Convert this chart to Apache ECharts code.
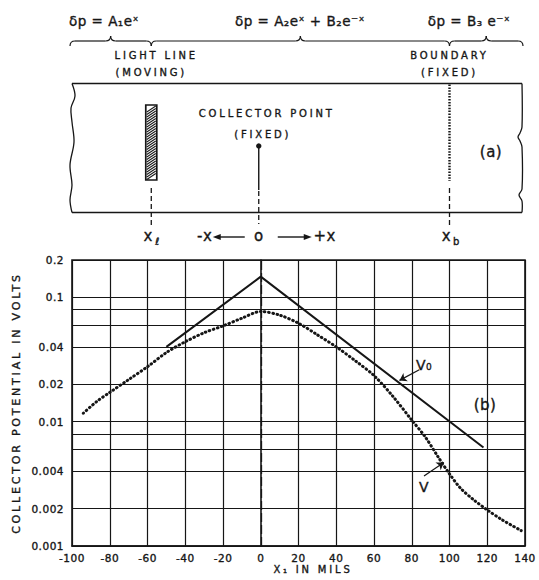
<!DOCTYPE html>
<html>
<head>
<meta charset="utf-8">
<script src="https://cdn.jsdelivr.net/npm/echarts@6/dist/echarts.min.js"></script>
<style>
  html, body { margin: 0; padding: 0; background: #fff; }
  #chart { width: 539px; height: 580px; }
  /* drafting-style lettering: capitals are widely tracked, numerals slightly */
  #chart text[style*="DejaVu Sans"] { letter-spacing: 2.8px; }
  #chart text[style*="Verdana"] { letter-spacing: 0.5px; }
</style>
</head>
<body>
<div id="chart"></div>
<script>
// ---- chart values -------------------------------------------------------
// x positions in mils
const xTickValues = [-100, -80, -60, -40, -20, 0, 20, 40, 60, 80, 100, 120, 140];
// logarithmic grid of the potential axis (volts) and the values that carry labels
const yGridValues = [0.001, 0.002, 0.004, 0.006, 0.008, 0.01, 0.02, 0.04, 0.06, 0.08, 0.1, 0.2];
const yLabelValues = [0.001, 0.002, 0.004, 0.01, 0.02, 0.04, 0.1, 0.2];

// V0 : straight (exponential) potential without the boundary
const v0X = [-50, 0, 118];
const v0Volts = [0.04, 0.147, 0.0062];

// V : measured collector potential
const vX = [-94, -87, -80, -70, -60, -50, -40, -30, -20, -10, 0, 10, 20, 30, 40, 50, 60,
            70, 80, 87, 94, 100, 106, 113, 120, 128, 138];
const vVolts = [0.0117, 0.0145, 0.0172, 0.0218, 0.0277, 0.036, 0.044, 0.052, 0.059, 0.068,
                0.077, 0.072, 0.062, 0.05, 0.04, 0.031, 0.0235, 0.016, 0.0103, 0.0076,
                0.0052, 0.0038, 0.0029, 0.00234, 0.00195, 0.00162, 0.00133];

// positions in the sketch above the plot (mils)
const X_LIGHT = -58;
const X_BOUNDARY = 100;

// ---- styling ------------------------------------------------------------
const INK = '#161616';
const LETTER = 'DejaVu Sans';
const NUMERAL = 'Verdana, DejaVu Sans';
const TEXT_WEIGHT = { textBorderColor: INK, textBorderWidth: 0.35 };

const chart = echarts.init(document.getElementById('chart'), null, { renderer: 'svg' });

const option = {
  animation: false,
  backgroundColor: '#fff',
  grid: {
    left: 72, right: 14, top: 260, bottom: 34,
    show: true, borderColor: INK, borderWidth: 1.6, backgroundColor: 'transparent'
  },
  xAxis: {
    type: 'value', min: -100, max: 140, interval: 20,
    name: 'X\u2081 IN MILS', nameLocation: 'middle', nameGap: 10,
    nameTextStyle: Object.assign({ color: INK, fontFamily: LETTER, fontSize: 10, padding: [0, 0, 0, 29] }, TEXT_WEIGHT),
    axisLine: { show: true, lineStyle: { color: INK, width: 1.6 } },
    axisTick: { show: false, customValues: xTickValues.filter(v => v !== 0) },
    axisLabel: Object.assign({ color: INK, fontFamily: NUMERAL, fontSize: 10.5, margin: 6 }, TEXT_WEIGHT),
    splitLine: { show: true, lineStyle: { color: INK, width: 1.2 } }
  },
  yAxis: {
    type: 'log', logBase: 10, min: 0.001, max: 0.2,
    name: 'COLLECTOR POTENTIAL IN VOLTS', nameLocation: 'middle', nameGap: 50, nameRotate: 90,
    nameTextStyle: Object.assign({ color: INK, fontFamily: LETTER, fontSize: 11 }, TEXT_WEIGHT),
    axisLine: { show: true, lineStyle: { color: INK, width: 1.6 } },
    axisTick: { show: false, customValues: yGridValues },
    axisLabel: Object.assign({
      customValues: yLabelValues, color: INK, fontFamily: NUMERAL, fontSize: 10.5, margin: 8,
      formatter: v => String(+(+v).toPrecision(3))
    }, TEXT_WEIGHT),
    splitLine: { show: true, lineStyle: { color: INK, width: 1.2 } }
  },
  series: [
    {
      name: 'V\u2080', type: 'line', symbol: 'none', z: 4,
      data: v0X.map((x, i) => [x, v0Volts[i]]),
      lineStyle: { color: INK, width: 2 },
      markLine: {
        silent: true, animation: false, symbol: ['none', 'none'], label: { show: false },
        data: [
          // dash-dot reference through the collector point
          { xAxis: 0, lineStyle: { color: INK, width: 1.3, type: [9, 3] } },
          // pointer to the V0 curve
          [
            { coord: [84, 0.0262], lineStyle: { color: INK, width: 1.2, type: 'solid' } },
            { coord: [73.5, 0.0215], symbol: 'arrow', symbolSize: 7 }
          ]
        ]
      }
    },
    {
      name: 'V', type: 'line', symbol: 'none', smooth: 0.3, z: 4,
      data: vX.map((x, i) => [x, vVolts[i]]),
      lineStyle: { color: INK, width: 3, type: [0.6, 3.6], cap: 'round' },
      markLine: {
        silent: true, animation: false, symbol: ['none', 'none'], label: { show: false },
        data: [
          [
            { coord: [86.5, 0.00366], lineStyle: { color: INK, width: 1.2, type: 'solid' } },
            { coord: [97, 0.0047], symbol: 'arrow', symbolSize: 7 }
          ]
        ]
      }
    }
  ]
};

chart.setOption(option);

// ---- sketch (a): the sample strip above the plot ------------------------
const px = v => chart.convertToPixel({ xAxisIndex: 0 }, v);
const pt = (x, v) => chart.convertToPixel({ xAxisIndex: 0, yAxisIndex: 0 }, [x, v]);
const xL = px(X_LIGHT), xO = px(0), xB = px(X_BOUNDARY);

const BOX_L = 72, BOX_R = 522, BOX_T = 83.5, BOX_B = 212.5;

function text(str, x, y, size, family) {
  return {
    type: 'text', silent: true, z: 10,
    style: { text: str, x, y, fill: INK, fontSize: size, fontFamily: family,
             stroke: INK, lineWidth: 0.35, align: 'center', verticalAlign: 'middle' }
  };
}
function line(x1, y1, x2, y2, w, dash) {
  return { type: 'line', silent: true, shape: { x1, y1, x2, y2 },
           style: { stroke: INK, lineWidth: w, lineDash: dash || null } };
}
function curve(x1, y1, cpx1, cpy1, x2, y2, w) {
  return { type: 'bezierCurve', silent: true, shape: { x1, y1, cpx1, cpy1, x2, y2 },
           style: { stroke: INK, fill: 'none', lineWidth: w } };
}
function wavy(points, w) {
  return { type: 'polyline', silent: true, shape: { points, smooth: 0.35 },
           style: { stroke: INK, fill: 'none', lineWidth: w } };
}
// horizontal curly brace, tip pointing up
function brace(x1, x2, xt) {
  const yEnd = 46, ym = 41, yTip = 36, r = 5, w = 1.2;
  return [
    curve(x1, yEnd, x1, ym, x1 + r, ym, w),
    line(x1 + r, ym, xt - r, ym, w),
    curve(xt - r, ym, xt, ym, xt, yTip, w),
    curve(xt, yTip, xt, ym, xt + r, ym, w),
    line(xt + r, ym, x2 - r, ym, w),
    curve(x2 - r, ym, x2, ym, x2, yEnd, w)
  ];
}

const g = [];
// equations for the three regions
g.push(text('\u03b4p = A\u2081e\u02e3', 104, 21, 13.5, NUMERAL));
g.push(text('\u03b4p = A\u2082e\u02e3 + B\u2082e\u207b\u02e3', 300, 21, 13.5, NUMERAL));
g.push(text('\u03b4p = B\u2083 e\u207b\u02e3', 469, 21, 13.5, NUMERAL));
g.push(...brace(BOX_L - 2, xL, (BOX_L - 2 + xL) / 2));
g.push(...brace(xL, xB, (xL + xB) / 2));
g.push(...brace(xB, BOX_R + 1, (xB + BOX_R + 1) / 2));

g.push(text('LIGHT LINE', xL + 5, 55.5, 10, LETTER));
g.push(text('(MOVING)', xL, 72, 10, LETTER));
g.push(text('BOUNDARY', xB, 55.5, 10, LETTER));
g.push(text('(FIXED)', xB, 72, 10, LETTER));

// strip outline with broken ends
g.push(line(BOX_L, BOX_T, BOX_R, BOX_T, 1.4));
g.push(line(BOX_L, BOX_B, BOX_R, BOX_B, 1.4));
g.push(wavy([[BOX_L, BOX_T], [BOX_L + 3, 96], [BOX_L - 1, 108], [BOX_L, 122], [BOX_L + 2, 142],
             [BOX_L - 2, 165], [BOX_L, 185], [BOX_L - 2, 200], [BOX_L, BOX_B]], 1.3));
g.push(wavy([[BOX_R, BOX_T], [BOX_R, 127], [BOX_R - 2, 133], [BOX_R - 4, 137], [BOX_R - 2, 141],
             [BOX_R, 147], [BOX_R, 189], [BOX_R - 3, 195], [BOX_R, 201], [BOX_R, BOX_B]], 1.3));

// hatched light line
const barT = 105, barB = 180, barW = 11;
g.push({ type: 'rect', silent: true, shape: { x: xL - barW / 2, y: barT, width: barW, height: barB - barT },
         style: { fill: '#fff', stroke: INK, lineWidth: 1.7 } });
for (let y = barT + 7; y <= barB; y += 2.5) {
  g.push(line(xL - barW / 2 + 1, y, xL + barW / 2 - 1, y - 6, 1.1));
}
// fixed boundary
g.push(line(xB, BOX_T + 1, xB, 181, 2.4, [1.5, 1.4]));
// collector point
g.push({ type: 'circle', silent: true, shape: { cx: xO - 2, cy: 146, r: 2.7 }, style: { fill: INK } });
g.push(line(xO - 2, 146, xO - 2, 190, 1.4));
g.push(line(xO - 2, 191, xO - 2, 224, 1.3, [5, 3]));
g.push(text('COLLECTOR POINT', xO + 6, 113.5, 10, LETTER));
g.push(text('(FIXED)', xO + 2, 134.5, 10, LETTER));
// projections down to the x markers
g.push(line(xL, 188, xL, 228, 1.3, [5, 3]));
g.push(line(xB, 188, xB, 228, 1.3, [5, 3]));
g.push(text('(a)', 491, 152, 15, NUMERAL));

// position markers and direction arrows
const yRow = 236;
g.push(text('x', xL - 3, yRow, 15, NUMERAL));
g.push(text('\u2113', xL + 6, yRow + 5, 10, NUMERAL));
g.push(text('x', xB - 3, yRow, 15, NUMERAL));
g.push(text('b', xB + 7, yRow + 5, 10, NUMERAL));
g.push(text('-x', xO - 56, yRow, 15, NUMERAL));
g.push(text('o', xO - 2, yRow, 15, NUMERAL));
g.push(text('+x', xO + 64, yRow, 15, NUMERAL));
g.push(line(xO - 16, yRow + 1, xO - 42, yRow + 1, 1.4));
g.push({ type: 'polygon', silent: true,
         shape: { points: [[xO - 48, yRow + 1], [xO - 40, yRow - 2], [xO - 40, yRow + 4]] }, style: { fill: INK } });
g.push(line(xO + 17, yRow + 1, xO + 45, yRow + 1, 1.4));
g.push({ type: 'polygon', silent: true,
         shape: { points: [[xO + 51, yRow + 1], [xO + 43, yRow - 2], [xO + 43, yRow + 4]] }, style: { fill: INK } });

// curve names and plot tag
const v0Tag = pt(86.5, 0.0286);
const vTag = pt(86.5, 0.00298);
g.push(text('V\u2080', v0Tag[0], v0Tag[1], 14, NUMERAL));
g.push(text('V', vTag[0], vTag[1], 14, NUMERAL));
g.push(text('(b)', 485, 405, 15, NUMERAL));

chart.setOption({ graphic: { elements: g } });
</script>
</body>
</html>
